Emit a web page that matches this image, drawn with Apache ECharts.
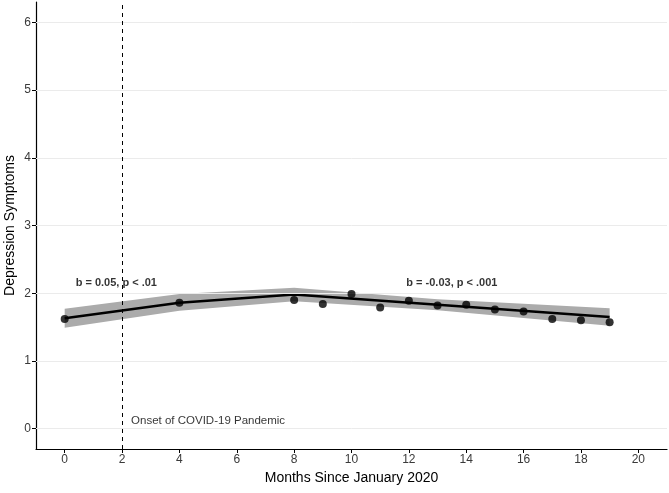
<!DOCTYPE html>
<html>
<head>
<meta charset="utf-8">
<script src="https://cdn.jsdelivr.net/npm/echarts@6/dist/echarts.min.js"></script>
<style>html,body{margin:0;padding:0;background:#fff}#c{width:669px;height:493px}</style>
</head>
<body>
<div id="c"></div>
<script>
// Observed monthly means
const months = [0, 4, 8, 9, 10, 11, 12, 13, 14, 15, 16, 17, 18, 19];
const observed = [1.62, 1.86, 1.90, 1.84, 1.99, 1.79, 1.89, 1.82, 1.83, 1.76, 1.73, 1.62, 1.60, 1.57];
// Fitted piecewise trajectory
const fitX = [0, 4, 8, 19];
const fitY = [1.63, 1.86, 1.98, 1.65];
// Confidence band
const bandX = [0, 4, 8, 13, 19];
const bandUpper = [1.77, 1.99, 2.08, 1.91, 1.78];
const bandLower = [1.49, 1.74, 1.88, 1.75, 1.52];
// Ticks
const xTicks = [0, 2, 4, 6, 8, 10, 12, 14, 16, 18, 20];
const yTicks = [0, 1, 2, 3, 4, 5, 6];
// Annotations
const onsetMonth = 2;
const annotations = [
  {x: 1.8, y: 2.15, text: 'b = 0.05, p < .01', bold: true},
  {x: 13.5, y: 2.15, text: 'b = -0.03, p < .001', bold: true},
  {x: 5.0, y: 0.11, text: 'Onset of COVID-19 Pandemic', bold: false}
];

const FONT = '"Liberation Sans", Arial, Helvetica, sans-serif';
const chart = echarts.init(document.getElementById('c'), null, {renderer: 'canvas'});

chart.setOption({
  animation: false,
  backgroundColor: '#fff',
  grid: {left: 36, right: 2, top: 2, bottom: 44, containLabel: false, outerBoundsMode: 'none'},
  xAxis: {
    type: 'value', min: -1, max: 21,
    name: 'Months Since January 2020', nameLocation: 'middle', nameGap: 22, nameMoveOverlap: false,
    nameTextStyle: {fontFamily: FONT, fontSize: 14, color: '#000'},
    axisLine: {show: true, onZero: false, lineStyle: {color: '#000', width: 1.2}},
    axisTick: {show: true, length: 4, customValues: xTicks, lineStyle: {color: '#000', width: 1}},
    axisLabel: {customValues: xTicks, fontFamily: FONT, fontSize: 12, color: '#3a3a3a', margin: 5},
    splitLine: {show: false}
  },
  yAxis: {
    type: 'value', min: -0.3, max: 6.3,
    name: 'Depression Symptoms', nameLocation: 'middle', nameGap: 19, nameMoveOverlap: false,
    nameTextStyle: {fontFamily: FONT, fontSize: 14, color: '#000'},
    axisLine: {show: true, onZero: false, lineStyle: {color: '#000', width: 1.2}},
    axisTick: {show: true, length: 4, customValues: yTicks, lineStyle: {color: '#000', width: 1}},
    axisLabel: {customValues: yTicks, fontFamily: FONT, fontSize: 12, color: '#3a3a3a', margin: 5},
    splitLine: {show: false}
  },
  series: [
    {
      type: 'line', name: 'grid', data: [], silent: true,
      markLine: {
        silent: true, symbol: ['none', 'none'], label: {show: false},
        lineStyle: {color: '#ebebeb', width: 1, type: 'solid'},
        data: yTicks.map(v => ({yAxis: v}))
      }
    },
    {
      type: 'custom', name: 'band', silent: true, z: 2,
      data: [[bandX[0], bandLower[0]]],
      renderItem: function (params, api) {
        const top = bandX.map((x, i) => api.coord([x, bandUpper[i]]));
        const bot = bandX.map((x, i) => api.coord([x, bandLower[i]])).reverse();
        return {type: 'polygon', shape: {points: top.concat(bot)}, style: {fill: '#ababab'}};
      }
    },
    {
      type: 'line', name: 'onset', data: [], silent: true, z: 3,
      markLine: {
        silent: true, symbol: ['none', 'none'], label: {show: false},
        lineStyle: {color: '#000', width: 1, type: [4, 4]},
        data: [{xAxis: onsetMonth}]
      }
    },
    {
      type: 'line', name: 'fit', z: 4,
      data: fitX.map((x, i) => [x, fitY[i]]),
      showSymbol: false, symbol: 'none',
      lineStyle: {color: '#000', width: 2.5}
    },
    {
      type: 'scatter', name: 'observed', z: 5,
      data: months.map((m, i) => [m, observed[i]]),
      symbol: 'circle', symbolSize: 8,
      itemStyle: {color: '#000'}
    },
    {
      type: 'scatter', name: 'annotations', z: 6, silent: true,
      symbolSize: 0,
      data: annotations.map(a => ({
        value: [a.x, a.y],
        label: {
          show: true, position: 'inside', formatter: a.text,
          fontFamily: FONT, fontSize: a.bold ? 11 : 11.5,
          fontWeight: a.bold ? 'bold' : 'normal', color: '#000'
        }
      }))
    }
  ]
});
</script>
</body>
</html>
